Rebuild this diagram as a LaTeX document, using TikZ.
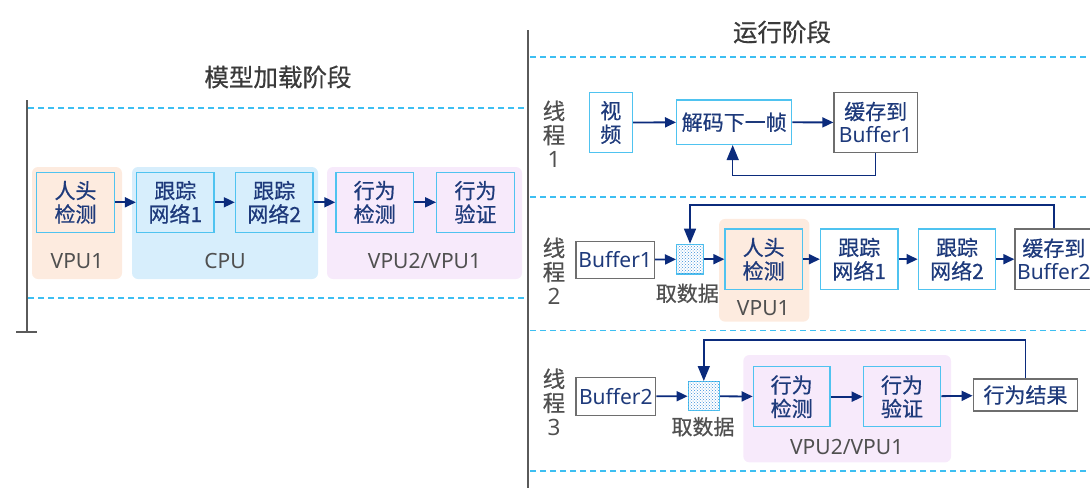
\documentclass[tikz,border=0pt]{standalone}
\usepackage{fontspec}
\setmainfont{Noto Sans}
\newfontfamily\cjk{Noto Sans CJK SC}[FakeBold=0.6]
\usetikzlibrary{arrows.meta,patterns}
\definecolor{dashc}{HTML}{3DBFF2}
\definecolor{boxc}{HTML}{4FC3F0}
\definecolor{arrowc}{HTML}{0B2B7C}
\definecolor{textc}{HTML}{1E3A7B}
\definecolor{grayc}{HTML}{505050}
\definecolor{titlec}{HTML}{3A3A3A}
\definecolor{lineg}{HTML}{5A5A5A}
\definecolor{grayb}{HTML}{6E6E6E}
\definecolor{orbg}{HTML}{FDEBDF}
\definecolor{blbg}{HTML}{D7EEFC}
\definecolor{pubg}{HTML}{F7EAFB}
\definecolor{patc}{HTML}{3A8FDA}
\begin{document}
\begin{tikzpicture}[x=1pt,y=-1pt,
  grp/.style={rounded corners=6pt, inner sep=0pt, draw=none},
  bx/.style={draw=boxc, line width=1.4pt, inner sep=0pt, align=center, text=textc,
    font=\cjk\fontsize{21}{23.5}\selectfont},
  gbx/.style={bx, draw=grayb, fill=white},
  wbx/.style={bx, fill=white},
  patbox/.style={draw=boxc, line width=1.4pt, fill=white, inner sep=0pt,
    postaction={pattern=crosshatch dots, pattern color=patc}},
  lbl/.style={text=grayc, inner sep=0pt, font=\fontsize{21}{24}\selectfont},
  clbl/.style={text=grayc, inner sep=0pt, font=\cjk\fontsize{21}{24}\selectfont},
  thr/.style={text=grayc, align=center, inner sep=0pt, font=\cjk\fontsize{22.5}{24}\selectfont},
  ttl/.style={text=titlec, inner sep=0pt, font=\cjk\fontsize{24.5}{26}\selectfont},
  dsh/.style={draw=dashc, line width=1.8pt, dash pattern=on 6pt off 4pt},
  vline/.style={draw=lineg, line width=2pt},
  arr/.style={draw=arrowc, line width=1.8pt, -{Triangle[length=11pt,width=10pt]}},
  fb/.style={draw=arrowc, line width=1.5pt, -{Triangle[length=15pt,width=12pt]}}
]
\useasboundingbox (0,0) rectangle (1090,488);

% ---------- left: model loading ----------
\node[ttl] (t1) at (278,77) {模型加载阶段};
\draw[vline] (26.7,100) -- (26.7,331.7);
\draw[vline] (16,331.7) -- (37,331.7);
\draw[dsh] (28,107.7) -- (528,107.7);
\draw[dsh] (28,298) -- (528,298);

\node[grp, fill=orbg, minimum width=90, minimum height=112] (g1) at (77,223) {};
\node[grp, fill=blbg, minimum width=186, minimum height=112] (g2) at (225,223) {};
\node[grp, fill=pubg, minimum width=195, minimum height=112] (g3) at (424.5,223) {};

\node[bx, minimum width=77.5, minimum height=60] (lh) at (75.5,202.3) {人头\\检测};
\node[bx, minimum width=77.5, minimum height=60] (lt1) at (175.3,202.3) {跟踪\\网络1};
\node[bx, minimum width=77.5, minimum height=60] (lt2) at (274.2,202.3) {跟踪\\网络2};
\node[bx, minimum width=77.5, minimum height=60] (lb1) at (374.7,202.3) {行为\\检测};
\node[bx, minimum width=77.5, minimum height=60] (lb2) at (475.5,202.3) {行为\\验证};

\node[lbl] (lg1) at (77,261) {VPU1};
\node[lbl] (lg2) at (225,261) {CPU};
\node[lbl] (lg3) at (424.5,261) {VPU2/VPU1};

\draw[arr] (lh) -- (lt1);
\draw[arr] (lt1) -- (lt2);
\draw[arr] (lt2) -- (lb1);
\draw[arr] (lb1) -- (lb2);

% ---------- right: running ----------
\node[ttl] (t2) at (782,32) {运行阶段};
\draw[vline] (528,30) -- (528,488);
\draw[dsh] (530,56.7) -- (1090,56.7);
\draw[dsh] (530,196.7) -- (1090,196.7);
\draw[dsh] (530,330.5) -- (1090,330.5);
\draw[dsh] (530,471) -- (1090,471);

% thread 1
\node[thr] (th1) at (554,134) {线\\程\\{\rmfamily 1}};
\node[bx, minimum width=43, minimum height=59.6] (v) at (610.8,122.5) {视\\频};
\node[bx, minimum width=115, minimum height=44.3] (dec) at (734.2,122.2) {解码下一帧};
\node[gbx, minimum width=83.3, minimum height=59.6] (c1) at (875.7,122.5) {缓存到\\{\rmfamily Buffer1}};
\draw[arr] (v) -- (dec);
\draw[arr] (dec) -- (c1);
\coordinate (f1) at (732.7,175.7);
\draw[fb] (c1.south) |- (f1) -- (f1 |- dec.south);

% thread 2
\node[thr] (th2) at (554,271) {线\\程\\{\rmfamily 2}};
\node[grp, fill=orbg, minimum width=90.3, minimum height=102.7] (gv1) at (764.2,270.3) {};
\node[gbx, minimum width=78.3, minimum height=36.6] (b1) at (615.2,260) {\rmfamily Buffer1};
\node[patbox, minimum width=26.6, minimum height=29.7] (p2) at (690,259.2) {};
\node[clbl] (q2) at (687.3,293.3) {取数据};
\node[bx, minimum width=77.3, minimum height=60.3] (h2) at (763.7,259.2) {人头\\检测};
\node[wbx, minimum width=77.3, minimum height=60.3] (t21) at (859.2,259.2) {跟踪\\网络1};
\node[wbx, minimum width=77.3, minimum height=60.3] (t22) at (957,259.2) {跟踪\\网络2};
\node[gbx, minimum width=77.7, minimum height=60.3] (c2) at (1053.9,259.2) {缓存到\\{\rmfamily Buffer2}};
\node[lbl] (lv1) at (763.3,308.3) {VPU1};
\draw[arr] (b1) -- (p2);
\draw[arr] (p2) -- (h2);
\draw[arr] (h2) -- (t21);
\draw[arr] (t21) -- (t22);
\draw[arr] (t22) -- (c2);
\coordinate (f2) at (690,205);
\draw[fb] (c2.north) |- (f2) -- (p2.north);

% thread 3
\node[thr] (th3) at (554,402) {线\\程\\{\rmfamily 3}};
\node[grp, fill=pubg, minimum width=207.7, minimum height=107.3] (gv2) at (847.2,408.7) {};
\node[gbx, minimum width=79.7, minimum height=38] (b2) at (615.8,396.3) {\rmfamily Buffer2};
\node[patbox, minimum width=31, minimum height=29] (p3) at (703.8,396.2) {};
\node[clbl] (q3) at (703,426.7) {取数据};
\node[bx, minimum width=76.7, minimum height=60] (a3) at (791.7,396.7) {行为\\检测};
\node[bx, minimum width=77.3, minimum height=60] (a4) at (902,396.7) {行为\\验证};
\node[gbx, minimum width=104.4, minimum height=32] (r3) at (1025.5,395) {行为结果};
\node[lbl] (lv2) at (846.7,446.7) {VPU2/VPU1};
\draw[arr] (b2) -- (p3);
\draw[arr] (p3) -- (a3);
\draw[arr] (a3) -- (a4);
\draw[arr] (a4) -- (r3);
\coordinate (f3) at (703.8,340);
\draw[fb] (r3.north) |- (f3) -- (p3.north);
\end{tikzpicture}
\end{document}
